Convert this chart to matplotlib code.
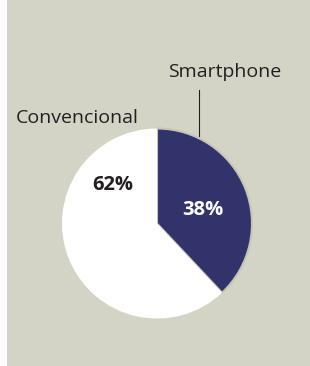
import matplotlib
matplotlib.use('Agg')
import matplotlib.pyplot as plt
from matplotlib.patches import Rectangle

labels = ['Smartphone', 'Convencional']
shares = [38, 62]
colors = ['#33336b', '#ffffff']
pct_colors = ['#ffffff', '#231f20']

plt.rcParams['font.family'] = ['Open Sans', 'DejaVu Sans']

W, H = 310, 366
fig = plt.figure(figsize=(W / 100, H / 100), dpi=100)
fig.patch.set_facecolor('white')
fig.add_artist(Rectangle((7 / W, 0), 1 - 7 / W, 1, transform=fig.transFigure,
                         facecolor='#d4d4c6', edgecolor='none', zorder=-10))

# pie centre (157, 223.5) px, radius 95 px
cx, cy, r = 157, 223.5, 95
ax = fig.add_axes([(cx - r) / W, (H - cy - r) / H, 2 * r / W, 2 * r / H])
ax.set_facecolor('none')

wedges, _ = ax.pie(shares, colors=colors, startangle=90, counterclock=False,
                   radius=1, wedgeprops=dict(linewidth=0))
wedges[0].set_edgecolor('#c4c4b8')
wedges[0].set_linewidth(1.5)
ax.set_xlim(-1, 1)
ax.set_ylim(-1, 1)
ax.set_aspect('equal')
ax.axis('off')

ax.text(0.484, 0.142, f'{shares[0]}%', color=pct_colors[0], fontsize=14.5,
        fontweight='bold', ha='center', va='center')
ax.text(-0.468, 0.405, f'{shares[1]}%', color=pct_colors[1], fontsize=14.5,
        fontweight='bold', ha='center', va='center')

ax.text(0.716, 1.595, labels[0], color='#231f20', fontsize=14,
        ha='center', va='center', clip_on=False)
ax.plot([0.442, 0.442], [1.405, 0.92], color='#231f20', lw=0.8, clip_on=False)
ax.text(-0.837, 1.11, labels[1], color='#231f20', fontsize=14,
        ha='center', va='center', clip_on=False)

fig.savefig('out.png', dpi=100)
